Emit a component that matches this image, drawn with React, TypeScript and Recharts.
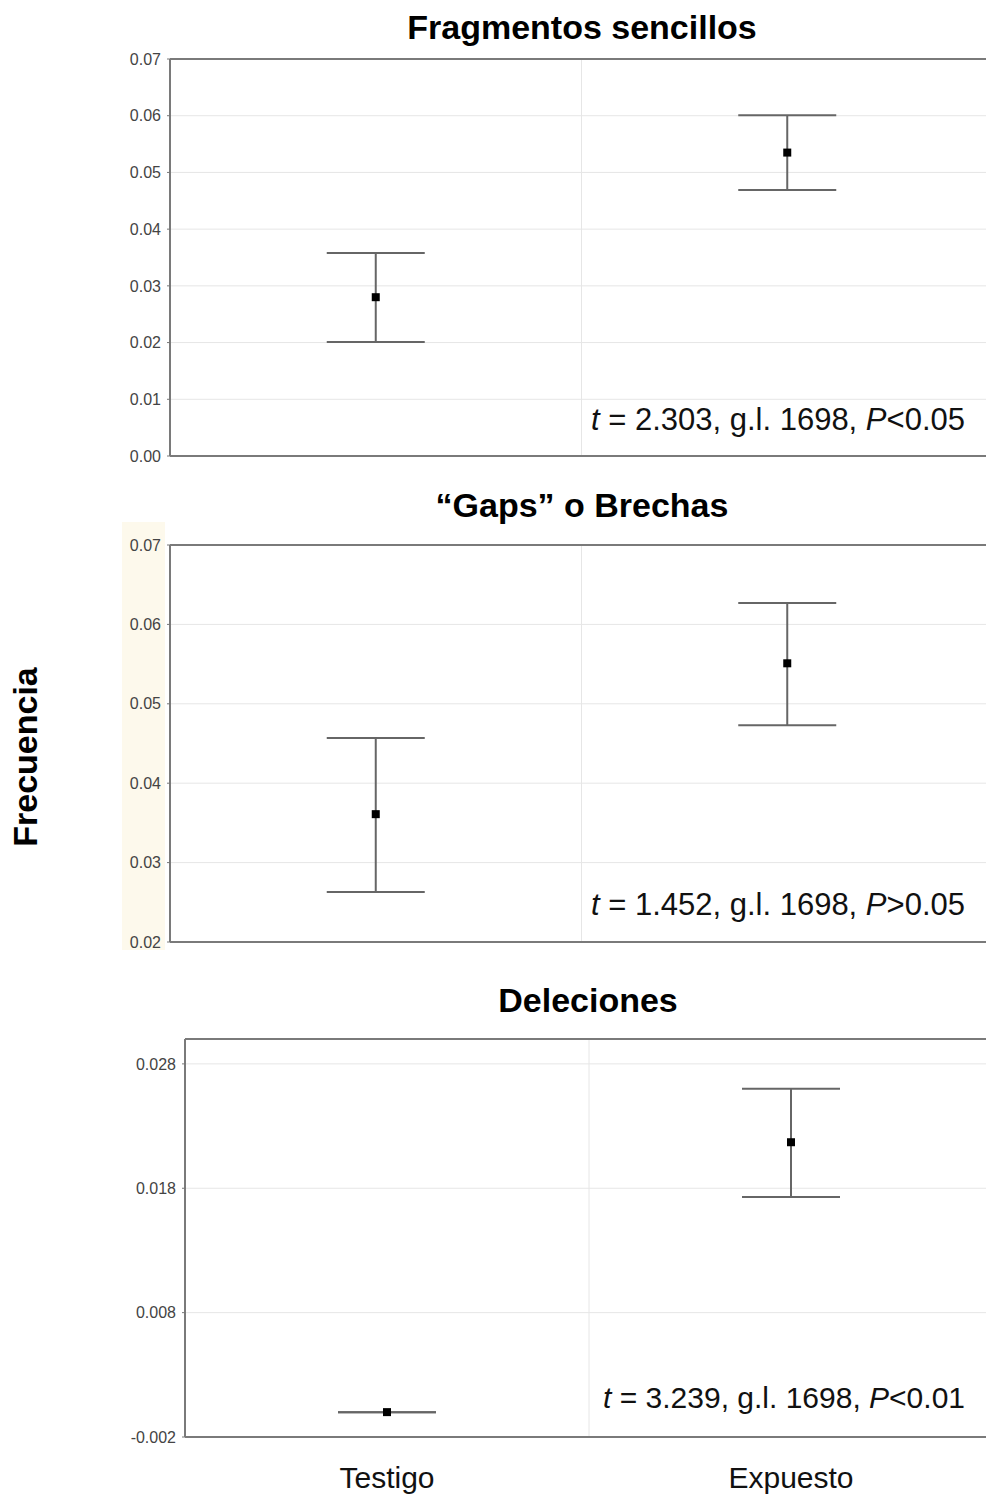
import React from 'react';
import { ComposedChart, Line, ErrorBar, XAxis, YAxis, CartesianGrid, ReferenceLine } from 'recharts';

const FONT = 'Arial, "Liberation Sans", Helvetica, sans-serif';
const FRAME = '#7a7a7a';

const categories = ['Testigo', 'Expuesto'];

// Fragmentos sencillos: media e intervalo
const fragMean = [0.028, 0.0535];
const fragLow = [0.0201, 0.0469];
const fragHigh = [0.0358, 0.0601];

// "Gaps" o brechas
const gapsMean = [0.0361, 0.0551];
const gapsLow = [0.0263, 0.0473];
const gapsHigh = [0.0457, 0.0627];

// Deleciones
const delMean = [0.0, 0.0217];
const delLow = [0.0, 0.0173];
const delHigh = [0.0, 0.026];

const fragTicks = [0, 0.01, 0.02, 0.03, 0.04, 0.05, 0.06, 0.07];
const gapsTicks = [0.02, 0.03, 0.04, 0.05, 0.06, 0.07];
const delTicks = [-0.002, 0.008, 0.018, 0.028];

const buildRows = (mean: number[], low: number[], high: number[]) =>
  categories.map((name, i) => ({
    name,
    mean: mean[i],
    err: [mean[i] - low[i], high[i] - mean[i]],
  }));

const SquareDot = (props: any) => {
  const { cx, cy } = props;
  if (cx == null || cy == null) return null;
  return <rect x={cx - 4} y={cy - 4} width={8} height={8} fill="#000" />;
};

interface PanelProps {
  top: number;
  height: number;
  marginTop: number;
  marginBottom: number;
  axisWidth: number;
  domain: [number, number];
  ticks: number[];
  digits: number;
  rows: { name: string; mean: number; err: number[] }[];
  showCategories?: boolean;
}

const Panel = ({ top, height, marginTop, marginBottom, axisWidth, domain, ticks, digits, rows, showCategories }: PanelProps) => (
  <div style={{ position: 'absolute', left: 0, top }}>
    <ComposedChart
      width={1010}
      height={height}
      data={rows}
      margin={{ top: marginTop, right: 17, bottom: marginBottom, left: 0 }}
    >
      <CartesianGrid
        stroke="#e6e6e6"
        strokeWidth={1}
        verticalCoordinatesGenerator={({ offset }: any) => [offset.left + offset.width / 2]}
      />
      <XAxis
        dataKey="name"
        scale="band"
        axisLine={false}
        tickLine={false}
        tick={showCategories ? { fill: '#111', fontSize: 30, fontFamily: FONT } : false}
        tickSize={0}
        tickMargin={30}
        height={showCategories ? 60 : 0}
      />
      <YAxis
        domain={domain}
        ticks={ticks}
        allowDataOverflow
        width={axisWidth}
        axisLine={{ stroke: FRAME, strokeWidth: 2 }}
        tickLine={{ stroke: '#777' }}
        tickSize={3}
        tickMargin={6}
        tick={{ fill: '#444', fontSize: 16, fontFamily: FONT }}
        tickFormatter={(v: number) => v.toFixed(digits)}
      />
      {/* top and bottom edges of the plot frame */}
      <ReferenceLine y={domain[1]} stroke={FRAME} strokeWidth={2} ifOverflow="visible" />
      <ReferenceLine y={domain[0]} stroke={FRAME} strokeWidth={2} ifOverflow="visible" />
      <Line
        dataKey="mean"
        stroke="none"
        dot={<SquareDot />}
        activeDot={false}
        isAnimationActive={false}
      >
        <ErrorBar dataKey="err" direction="y" width={49} stroke="#666" strokeWidth={2} />
      </Line>
    </ComposedChart>
  </div>
);

const titleStyle = (cx: number, cy: number): React.CSSProperties => ({
  position: 'absolute',
  left: cx - 300,
  top: cy - 19,
  width: 600,
  textAlign: 'center',
  fontFamily: FONT,
  fontWeight: 'bold',
  fontSize: 34,
  lineHeight: '38px',
  color: '#000',
  whiteSpace: 'nowrap',
});

const Note = ({ cy, size, t, sign, p }: { cy: number; size: number; t: string; sign: string; p: string }) => (
  <div
    style={{
      position: 'absolute',
      right: 986 - 965,
      top: cy - 17,
      fontFamily: FONT,
      fontSize: size,
      lineHeight: '34px',
      color: '#111',
      whiteSpace: 'nowrap',
    }}
  >
    <i>t</i> = {t}, g.l. 1698, <i>P</i>{sign}{p}
  </div>
);

export default function App() {
  return (
    <div
      style={{
        position: 'fixed',
        left: 0,
        top: 0,
        width: 986,
        height: 1499,
        overflow: 'hidden',
        background: '#fff',
        fontFamily: FONT,
      }}
    >
      <div style={{ position: 'absolute', left: 122, top: 522, width: 43, height: 428, background: '#fdf9ec' }} />

      <div style={titleStyle(582, 27)}>Fragmentos sencillos</div>
      <Panel
        top={0}
        height={470}
        marginTop={59}
        marginBottom={14}
        axisWidth={170}
        domain={[0, 0.07]}
        ticks={fragTicks}
        digits={2}
        rows={buildRows(fragMean, fragLow, fragHigh)}
      />
      <Note cy={420} size={31} t="2.303" sign="<" p="0.05" />

      <div style={titleStyle(582, 505)}>“Gaps” o Brechas</div>
      <Panel
        top={530}
        height={426}
        marginTop={15}
        marginBottom={14}
        axisWidth={170}
        domain={[0.02, 0.07]}
        ticks={gapsTicks}
        digits={2}
        rows={buildRows(gapsMean, gapsLow, gapsHigh)}
      />
      <Note cy={905} size={31} t="1.452" sign=">" p="0.05" />

      <div style={titleStyle(588, 1000)}>Deleciones</div>
      <Panel
        top={1020}
        height={479}
        marginTop={19}
        marginBottom={2}
        axisWidth={185}
        domain={[-0.002, 0.03]}
        ticks={delTicks}
        digits={3}
        rows={buildRows(delMean, delLow, delHigh)}
        showCategories
      />
      <Note cy={1398} size={30} t="3.239" sign="<" p="0.01" />

      <div
        style={{
          position: 'absolute',
          left: 25,
          top: 757,
          transform: 'translate(-50%, -50%) rotate(-90deg)',
          fontFamily: FONT,
          fontWeight: 'bold',
          fontSize: 34,
          color: '#000',
          whiteSpace: 'nowrap',
        }}
      >
        Frecuencia
      </div>
    </div>
  );
}
